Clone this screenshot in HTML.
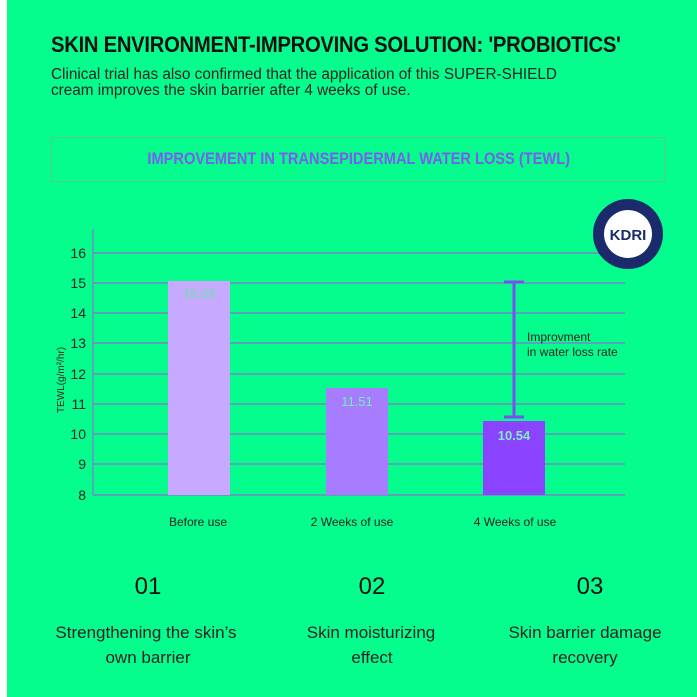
<!DOCTYPE html>
<html><head><meta charset="utf-8"><style>
body{margin:0;width:697px;height:697px;background:#fff;overflow:hidden;font-family:"Liberation Sans",sans-serif}
#bg{position:absolute;left:7px;top:0;width:690px;height:697px;background:#05fd8e}
.t{position:absolute;white-space:nowrap}
</style></head><body>
<div id="bg"></div>
<div class="t" style="left:51px;top:32px;font-size:22px;font-weight:bold;color:#111;letter-spacing:-0.3px;transform:scaleX(0.92);transform-origin:left">SKIN ENVIRONMENT-IMPROVING SOLUTION: 'PROBIOTICS'</div>
<div class="t" style="left:51px;top:67px;font-size:15.3px;line-height:16px;color:#222;">Clinical trial has also confirmed that the application of this SUPER-SHIELD<br>cream improves the skin barrier after 4 weeks of use.</div>
<div style="position:absolute;left:51px;top:137px;width:613px;height:43px;border:1px solid #55c98a"></div>
<div class="t" style="left:51px;top:149px;width:615px;text-align:center;font-size:17px;font-weight:bold;color:#7a5cf0"><span style="display:inline-block;transform:scaleX(0.86)">IMPROVEMENT IN TRANSEPIDERMAL WATER LOSS (TEWL)</span></div>
<svg style="position:absolute;left:0;top:0" width="697" height="697">
<g stroke="#8f6fd0" stroke-width="1.2">
<line x1="93" y1="229" x2="93" y2="495"/>
<line x1="93" y1="253" x2="625" y2="253"/><line x1="93" y1="283" x2="625" y2="283"/>
<line x1="93" y1="313" x2="625" y2="313"/><line x1="93" y1="343" x2="625" y2="343"/>
<line x1="93" y1="374" x2="625" y2="374"/><line x1="93" y1="404" x2="625" y2="404"/>
<line x1="93" y1="434" x2="625" y2="434"/><line x1="93" y1="464" x2="625" y2="464"/>
<line x1="93" y1="495" x2="625" y2="495"/>
</g>
<rect x="168" y="281" width="62" height="214" fill="#c7a9ff"/>
<rect x="326" y="388" width="62" height="107" fill="#a77cff"/>
<rect x="483" y="421" width="62" height="74" fill="#8a44ff"/>
<g stroke="#7a4ef0" stroke-width="3"><line x1="514" y1="282" x2="514" y2="417"/><line x1="504" y1="282" x2="524" y2="282"/><line x1="504" y1="417" x2="524" y2="417"/></g>
<g font-family="Liberation Sans" font-size="14" fill="#222" text-anchor="end">
<text x="86" y="258">16</text><text x="86" y="288">15</text><text x="86" y="318">14</text><text x="86" y="348">13</text><text x="86" y="379">12</text><text x="86" y="409">11</text><text x="86" y="439">10</text><text x="86" y="469">9</text><text x="86" y="500">8</text>
</g>
<text transform="translate(64,380) rotate(-90)" font-family="Liberation Sans" font-size="10" fill="#222" text-anchor="middle">TEWL(g/m²/hr)</text>
<g font-family="Liberation Sans" font-size="13" text-anchor="middle">
<text x="199" y="298" fill="#5ee8a8">15.03</text><text x="357" y="406" fill="#6ff0b8">11.51</text><text x="514" y="440" fill="#7ef0c0" font-weight="bold">10.54</text>
</g>
<g font-family="Liberation Sans" font-size="12" fill="#222" text-anchor="middle">
<text x="198" y="526">Before use</text><text x="352" y="526">2 Weeks of use</text><text x="515" y="526">4 Weeks of use</text>
</g>
<text x="527" y="341" font-family="Liberation Sans" font-size="12" fill="#222">Improvment</text>
<text x="527" y="356" font-family="Liberation Sans" font-size="12" fill="#222">in water loss rate</text>
<circle cx="628" cy="234" r="35" fill="#1a2a6a"/><circle cx="628" cy="234" r="24" fill="#fff"/>
<text x="628" y="240" font-family="Liberation Sans" font-size="15" font-weight="bold" fill="#1a2a6a" text-anchor="middle">KDRI</text>
<g font-family="Liberation Sans" font-size="24" fill="#111" text-anchor="middle">
<text x="148" y="594">01</text><text x="372" y="594">02</text><text x="590" y="594">03</text>
</g>
<g font-family="Liberation Sans" font-size="17" fill="#222" text-anchor="middle">
<text x="146" y="638">Strengthening the skin’s</text><text x="148" y="663">own barrier</text>
<text x="371" y="638">Skin moisturizing</text><text x="372" y="663">effect</text>
<text x="585" y="638">Skin barrier damage</text><text x="585" y="663">recovery</text>
</g>
</svg>
</body></html>
